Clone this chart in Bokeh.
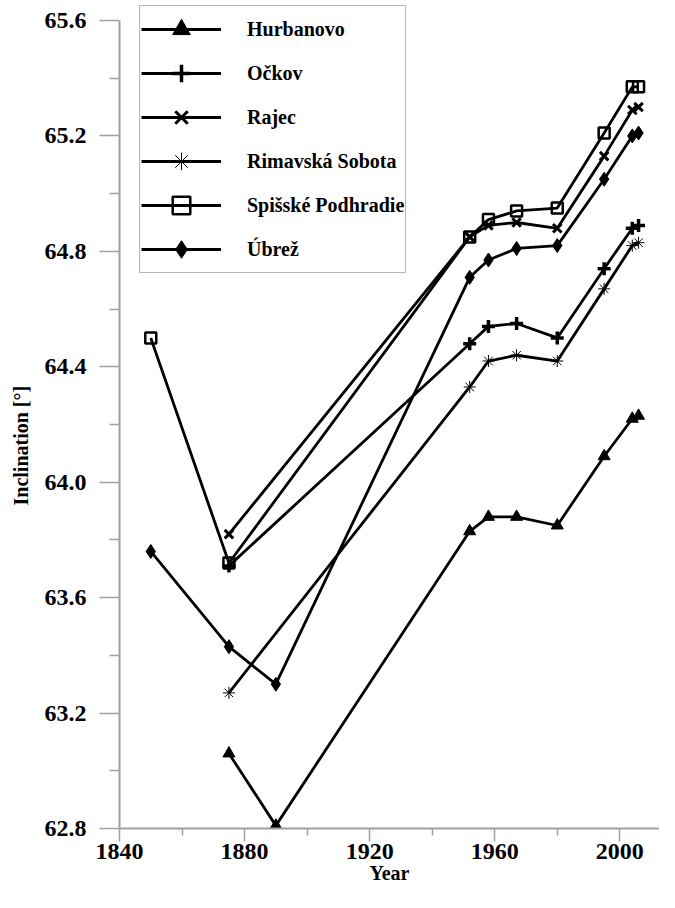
from bokeh.plotting import figure
from bokeh.models import FixedTicker, Legend, LegendItem, PrintfTickFormatter, Range1d, Title
from bokeh.embed import file_html
from bokeh.resources import INLINE

# ---- data ----
years_hurbanovo = [1875, 1890, 1952, 1958, 1967, 1980, 1995, 2004, 2006]
incl_hurbanovo = [63.06, 62.81, 63.83, 63.88, 63.88, 63.85, 64.09, 64.22, 64.23]

years_ockov = [1875, 1952, 1958, 1967, 1980, 1995, 2004, 2006]
incl_ockov = [63.71, 64.48, 64.54, 64.55, 64.50, 64.74, 64.88, 64.89]

years_rajec = [1875, 1952, 1958, 1967, 1980, 1995, 2004, 2006]
incl_rajec = [63.82, 64.85, 64.89, 64.90, 64.88, 65.13, 65.29, 65.30]

years_rimavska = [1875, 1952, 1958, 1967, 1980, 1995, 2004, 2006]
incl_rimavska = [63.27, 64.33, 64.42, 64.44, 64.42, 64.67, 64.82, 64.83]

years_spisske = [1850, 1875, 1952, 1958, 1967, 1980, 1995, 2004, 2006]
incl_spisske = [64.50, 63.72, 64.85, 64.91, 64.94, 64.95, 65.21, 65.37, 65.37]

years_ubrez = [1850, 1875, 1890, 1952, 1958, 1967, 1980, 1995, 2004, 2006]
incl_ubrez = [63.76, 63.43, 63.30, 64.71, 64.77, 64.81, 64.82, 65.05, 65.20, 65.21]

x_major = [1840, 1880, 1920, 1960, 2000]
x_minor = [1860, 1900, 1940, 1980]
y_major = [62.8, 63.2, 63.6, 64.0, 64.4, 64.8, 65.2, 65.6]
y_minor = [63.0, 63.4, 63.8, 64.2, 64.6, 65.0, 65.4]

FONT = "Liberation Serif"
AXIS_COLOR = "#a0a0a0"

# frame spans the full height above the x axis so the legend fits inside it;
# the y axis line itself is bounded to 62.8 .. 65.6
p = figure(width=659, height=892, output_backend="svg", toolbar_location=None,
           x_range=Range1d(1840, 2012.7), y_range=Range1d(62.8, 65.6693),
           min_border_left=115, min_border_right=0, min_border_top=0,
           min_border_bottom=64)
p.outline_line_color = None
p.grid.visible = False
p.background_fill_color = "white"
p.border_fill_color = "white"

series = [
    ("Hurbanovo", years_hurbanovo, incl_hurbanovo,
     dict(marker="triangle", size=12, fill_color="black", line_color="black", line_width=1)),
    ("Očkov", years_ockov, incl_ockov,
     dict(marker="cross", size=13, line_color="black", line_width=3.5)),
    ("Rajec", years_rajec, incl_rajec,
     dict(marker="x", size=12, line_color="black", line_width=3)),
    ("Rimavská Sobota", years_rimavska, incl_rimavska,
     dict(marker="asterisk", size=12, line_color="black", line_width=1)),
    ("Spišské Podhradie", years_spisske, incl_spisske,
     dict(marker="square", size=11, fill_alpha=0, line_color="black", line_width=2.5)),
    ("Úbrež", years_ubrez, incl_ubrez,
     dict(marker="diamond", size=14, fill_color="black", line_color="black", line_width=1)),
]

items = []
for name, xs, ys, mk in series:
    lr = p.line(xs, ys, line_color="black", line_width=2.8)
    sr = p.scatter(xs, ys, **mk)
    items.append(LegendItem(label=name, renderers=[sr, lr]))

legend = Legend(items=items, location=(20, 555))
legend.glyph_width = 80
legend.glyph_height = 44
legend.label_height = 44
legend.spacing = 0
legend.padding = 1
legend.margin = 0
legend.label_standoff = 26
legend.label_text_font = FONT
legend.label_text_font_style = "bold"
legend.label_text_font_size = "20px"
legend.label_text_color = "black"
legend.border_line_color = "#707070"
legend.border_line_width = 1.5
legend.background_fill_color = "white"
legend.background_fill_alpha = 1
p.add_layout(legend)

# x axis
xa = p.xaxis[0]
xa.ticker = FixedTicker(ticks=x_major, minor_ticks=x_minor)
xa.axis_label = "Year"
# y axis
ya = p.yaxis[0]
ya.ticker = FixedTicker(ticks=y_major, minor_ticks=y_minor)
ya.formatter = PrintfTickFormatter(format="%.1f")
ya.bounds = (62.8, 65.6)

for ax in (xa, ya):
    ax.axis_line_color = AXIS_COLOR
    ax.axis_line_width = 2
    ax.major_tick_line_color = AXIS_COLOR
    ax.minor_tick_line_color = AXIS_COLOR
    ax.major_tick_line_width = 1.5
    ax.minor_tick_line_width = 1.5
    ax.major_tick_in = 0
    ax.minor_tick_in = 0
    ax.major_label_text_font = FONT
    ax.major_label_text_font_style = "bold"
    ax.major_label_text_font_size = "24px"
    ax.major_label_text_color = "black"
    ax.axis_label_text_font = FONT
    ax.axis_label_text_font_style = "bold"
    ax.axis_label_text_font_size = "20px"
    ax.axis_label_text_color = "black"

xa.major_tick_out = 13
xa.minor_tick_out = 7
xa.major_label_standoff = 2
xa.axis_label_standoff = 0

ya.major_tick_out = 20
ya.minor_tick_out = 10
ya.major_label_standoff = 13

# y axis title, placed as a side title so it can sit below the frame centre
ytitle = Title(text="Inclination [°]", align="left", offset=323,
               text_font=FONT, text_font_style="bold", text_font_size="20px",
               text_color="black", standoff=17, vertical_align="middle")
p.add_layout(ytitle, "left")

open("out.html", "w").write(file_html(p, INLINE))
